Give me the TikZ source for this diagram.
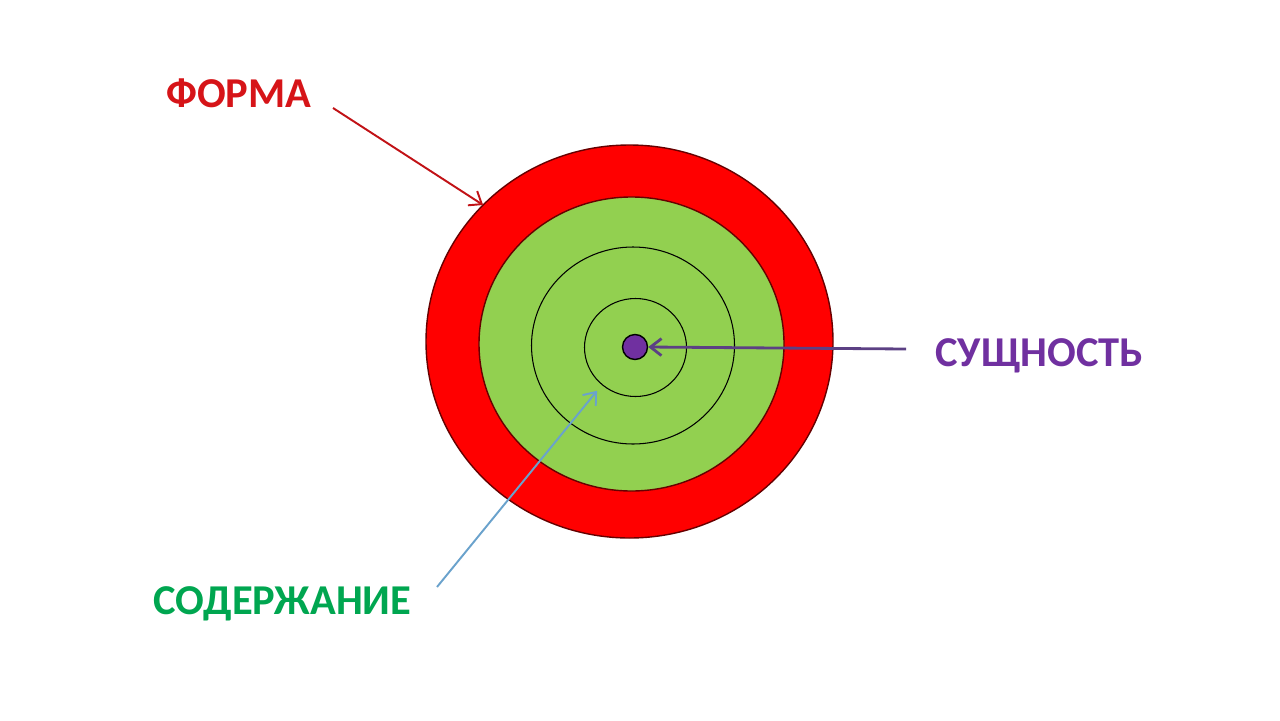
\documentclass[tikz,border=0pt]{standalone}
\usepackage{fontspec}
\setmainfont{Carlito}
\usetikzlibrary{shapes.geometric,arrows.meta}
\definecolor{formared}{RGB}{255,0,0}
\definecolor{ringgreen}{RGB}{146,208,80}
\definecolor{wordred}{RGB}{214,20,24}
\definecolor{wordgreen}{RGB}{0,166,80}
\definecolor{essence}{RGB}{112,48,160}
\definecolor{essencearrow}{RGB}{92,64,132}
\definecolor{contentarrow}{RGB}{106,162,204}

\begin{document}
\begin{tikzpicture}[x=0.02cm, y=-0.02cm,
    ring/.style={ellipse, draw, inner sep=0pt, outer sep=0pt},
    word/.style={font=\fontsize{24.2}{28}\selectfont\bfseries, anchor=base west, inner sep=0pt},
    pointer/.style={-{Straight Barb[length=0.22cm, width=0.34cm]}, line width=1.1pt}]
    \useasboundingbox (0,0) rectangle (1280,720);

    % Circles
    \node[ring, fill=formared, draw=black!60!red, line width=0.8pt,
          minimum width=407*0.02cm, minimum height=393*0.02cm] (outer) at (629.5,341.5) {};
    \node[ring, fill=ringgreen, draw=black!60!red, line width=0.8pt,
          minimum width=305*0.02cm, minimum height=294*0.02cm] (inner) at (631.5,344) {};
    \node[ring, line width=0.6pt,
          minimum width=203*0.02cm, minimum height=197*0.02cm] (ring1) at (633,345.5) {};
    \node[ring, line width=0.6pt,
          minimum width=102*0.02cm, minimum height=98*0.02cm] (ring2) at (635.5,347.5) {};
    \node[circle, draw=black, fill=essence, line width=0.8pt,
          minimum size=0.5cm, inner sep=0pt] (dot) at (635,347) {};

    % Labels
    \node[word, text=wordred] (forma) at (166,107) {ФОРМА};
    \node[word, text=wordgreen] (content) at (153,614) {СОДЕРЖАНИЕ};
    \node[word, text=essence] (essence) at (935,366) {СУЩНОСТЬ};

    % Arrows
    \coordinate (formatail) at (333,108);
    \coordinate (contenttail) at (437,587);
    \coordinate (essencetail) at (906,349);
    \draw[pointer, draw=wordred!90!black] (formatail) -- (outer.137);
    \draw[pointer, draw=contentarrow, shorten >=0.16cm] (contenttail) -- (ring2.228);
    \draw[pointer, draw=essencearrow, line width=1.6pt] (essencetail) -- (dot.east);
\end{tikzpicture}
\end{document}
